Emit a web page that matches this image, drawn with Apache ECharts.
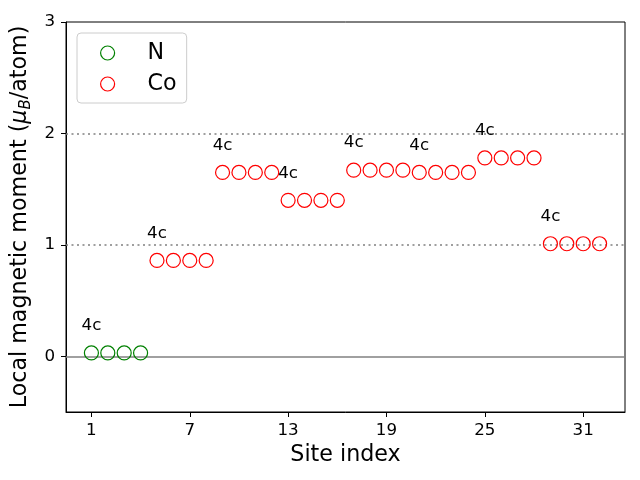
<!DOCTYPE html>
<html>
<head>
<meta charset="utf-8">
<script src="https://cdn.jsdelivr.net/npm/echarts@6/dist/echarts.min.js"></script>
<style>html,body{margin:0;padding:0;background:#fff}#c{width:640px;height:480px}</style>
</head>
<body>
<div id="c"></div>
<script>
const sitesN = [1, 2, 3, 4];
const valuesN = [0.03, 0.03, 0.03, 0.03];
const sitesCo = [5, 6, 7, 8, 9, 10, 11, 12, 13, 14, 15, 16, 17, 18, 19, 20, 21, 22, 23, 24, 25, 26, 27, 28, 29, 30, 31, 32];
const valuesCo = [0.86, 0.86, 0.86, 0.86, 1.65, 1.65, 1.65, 1.65, 1.40, 1.40, 1.40, 1.40, 1.67, 1.67, 1.67, 1.67, 1.65, 1.65, 1.65, 1.65, 1.78, 1.78, 1.78, 1.78, 1.01, 1.01, 1.01, 1.01];
const labelSites = [1, 5, 9, 13, 17, 21, 25, 29];
const labelTexts = ['4c', '4c', '4c', '4c', '4c', '4c', '4c', '4c'];
const xTicks = [1, 7, 13, 19, 25, 31];
const yTicks = [0, 1, 2, 3];
const dottedLines = [1, 2];
const solidLines = [0];

const FONT = 'DejaVu Sans';
function points(sites, vals) {
  return sites.map((s, i) => {
    const k = labelSites.indexOf(s);
    const item = { value: [s, vals[i]] };
    if (k >= 0) {
      item.label = { show: true, formatter: labelTexts[k], position: 'top', distance: 11,
        fontFamily: FONT, fontSize: 16.7, color: '#000', textBorderWidth: 0 };
    }
    return item;
  });
}
const chart = echarts.init(document.getElementById('c'), null, { renderer: 'canvas' });
chart.setOption({
  animation: false,
  grid: { left: 66, right: 15, top: 22, bottom: 68, show: true, borderColor: '#000', borderWidth: 1 },
  xAxis: {
    type: 'value', min: -0.55, max: 33.55,
    name: 'Site index', nameLocation: 'middle', nameGap: 32,
    nameTextStyle: { fontFamily: FONT, fontSize: 22.2, color: '#000' },
    axisLine: { show: true, onZero: false, lineStyle: { color: '#000', width: 1 } },
    axisTick: { show: true, inside: false, length: 5, customValues: xTicks, lineStyle: { color: '#000' } },
    axisLabel: { customValues: xTicks, margin: 10, fontFamily: FONT, fontSize: 16.7, color: '#000' },
    splitLine: { show: false }
  },
  yAxis: {
    type: 'value', min: -0.5, max: 3,
    name: '{n|Local magnetic moment (}{i|μ}{s|B}{n|/atom)}', nameLocation: 'middle', nameGap: 30,
    nameTextStyle: { fontFamily: FONT, fontSize: 22.2, color: '#000',
      rich: {
        n: { fontFamily: FONT, fontSize: 22.2, color: '#000', lineHeight: 26 },
        i: { fontFamily: FONT, fontSize: 22.2, fontStyle: 'italic', color: '#000', lineHeight: 26 },
        s: { fontFamily: FONT, fontSize: 15, fontStyle: 'italic', color: '#000', padding: [12, 0, 0, 0] }
      } },
    axisLine: { show: true, onZero: false, lineStyle: { color: '#000', width: 1 } },
    axisTick: { show: true, inside: false, length: 5, customValues: yTicks, lineStyle: { color: '#000' } },
    axisLabel: { customValues: yTicks, margin: 11, fontFamily: FONT, fontSize: 16.7, color: '#000' },
    splitLine: { show: false }
  },
  legend: {
    orient: 'vertical', left: 77, top: 33,
    padding: [9, 10, 8, 23], itemGap: 9, itemWidth: 14, itemHeight: 14,
    borderColor: '#cccccc', borderWidth: 1, borderRadius: 4, backgroundColor: 'rgba(255,255,255,0.8)',
    textStyle: { fontFamily: FONT, fontSize: 22.2, color: '#000', padding: [0, 0, 0, 28] },
    data: [
      { name: 'N', icon: 'circle', itemStyle: { color: 'rgba(0,0,0,0)', borderColor: 'green', borderWidth: 1.2, opacity: 1 } },
      { name: 'Co', icon: 'circle', itemStyle: { color: 'rgba(0,0,0,0)', borderColor: 'red', borderWidth: 1.2, opacity: 1 } }
    ]
  },
  series: [
    {
      name: 'ref', type: 'line', data: [], silent: true,
      markLine: {
        silent: true, symbol: 'none', label: { show: false }, animation: false,
        data: solidLines.map(v => ({ yAxis: v, lineStyle: { type: 'solid', color: 'gray', width: 1.5 } }))
          .concat(dottedLines.map(v => ({ yAxis: v, lineStyle: { type: [2, 3.5], color: 'gray', width: 1.5 } })))
      }
    },
    {
      name: 'N', type: 'scatter', symbol: 'circle', symbolSize: 14, z: 5,
      itemStyle: { color: 'rgba(0,0,0,0)', borderColor: 'green', borderWidth: 1.2, opacity: 1 },
      data: points(sitesN, valuesN)
    },
    {
      name: 'Co', type: 'scatter', symbol: 'circle', symbolSize: 14, z: 5,
      itemStyle: { color: 'rgba(0,0,0,0)', borderColor: 'red', borderWidth: 1.2, opacity: 1 },
      data: points(sitesCo, valuesCo)
    }
  ]
});
</script>
</body>
</html>
